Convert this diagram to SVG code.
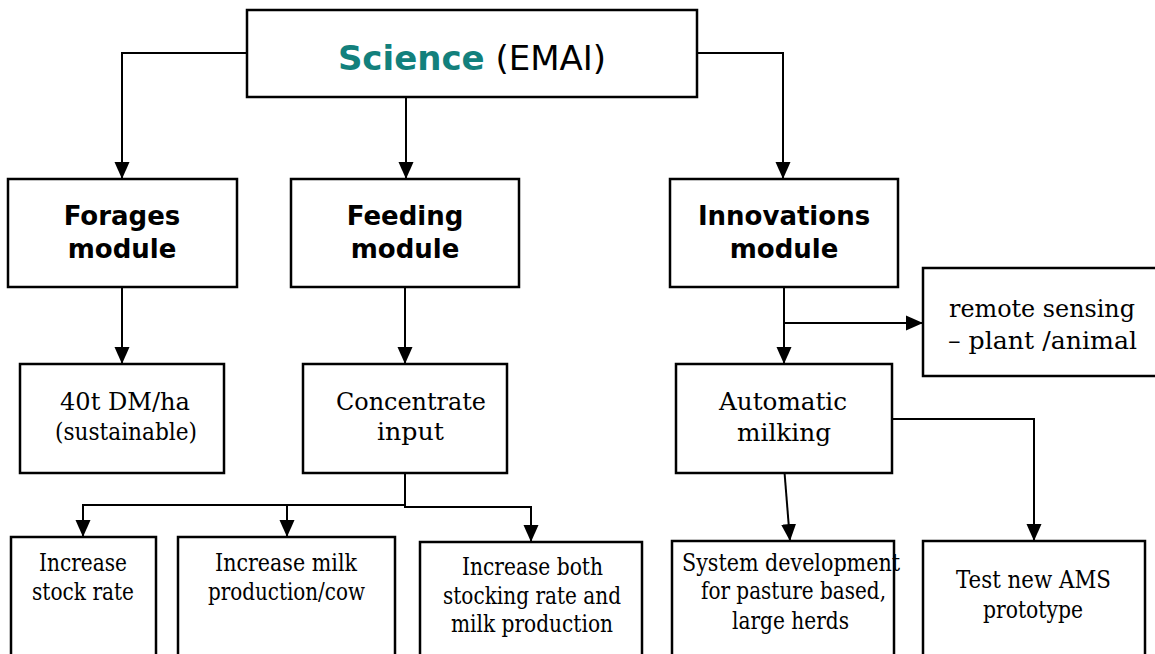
<svg xmlns="http://www.w3.org/2000/svg" width="1155" height="654" viewBox="0 0 1155 654">
<style>
.box{fill:#fff;stroke:#000;stroke-width:2.5}
.con{fill:none;stroke:#000;stroke-width:2;marker-end:url(#arr)}
.mod{font-family:"DejaVu Sans","Verdana",sans-serif;font-weight:bold;font-size:26px;text-anchor:middle;fill:#000}
.ser{font-family:"DejaVu Serif","Liberation Serif",serif;font-size:25px;text-anchor:middle;fill:#000}
</style>
<defs>
<marker id="arr" markerUnits="userSpaceOnUse" markerWidth="17" markerHeight="17" viewBox="0 0 17 17" refX="17" refY="8.5" orient="auto">
<path d="M0,1 L17,8.5 L0,16 Z" fill="#000"/>
</marker>
</defs>
<rect width="1155" height="654" fill="#fff"/>
<g id="connectors">
<path class="con" d="M247,53 H122 V179"/>
<path class="con" d="M697,53 H783 V179"/>
<path class="con" d="M406,97 V179"/>
<path class="con" d="M122,287 V364"/>
<path class="con" d="M405,287 V364"/>
<path class="con" d="M405,473 V505 H83 V537"/>
<path class="con" d="M287,505 V537"/>
<path class="con" d="M405,505 V507 H531 V542"/>
<path class="con" d="M784,287 V364"/>
<path class="con" d="M784,323 H923"/>
<path class="con" d="M784,466 L790,541"/>
<path class="con" d="M892,419 H1034 V541"/>
</g>
<g id="science">
<rect class="box" x="247" y="10" width="450" height="87"/>
<text x="472" y="70" font-family="'DejaVu Sans',Verdana,sans-serif" font-size="34px" text-anchor="middle"><tspan font-weight="bold" fill="#12807c">Science</tspan> <tspan fill="#000">(EMAI)</tspan></text>
</g>
<g id="forages">
<rect class="box" x="8" y="179" width="229" height="108"/>
<text class="mod" x="122" y="225">Forages</text>
<text class="mod" x="122" y="258">module</text>
</g>
<g id="feeding">
<rect class="box" x="291" y="179" width="228" height="108"/>
<text class="mod" x="405" y="225">Feeding</text>
<text class="mod" x="405" y="258">module</text>
</g>
<g id="innovations">
<rect class="box" x="670" y="179" width="228" height="108"/>
<text class="mod" x="784" y="225">Innovations</text>
<text class="mod" x="784" y="258">module</text>
</g>
<g id="remote">
<rect class="box" x="923" y="268" width="240" height="108"/>
<text class="ser" x="1042" y="317" textLength="186" lengthAdjust="spacingAndGlyphs">remote sensing</text>
<text class="ser" x="1042.5" y="349" textLength="189" lengthAdjust="spacingAndGlyphs">– plant /animal</text>
</g>
<g id="dm">
<rect class="box" x="20" y="364" width="204" height="109"/>
<text class="ser" x="125" y="410" textLength="130" lengthAdjust="spacingAndGlyphs">40t DM/ha</text>
<text class="ser" x="126" y="440" textLength="142" lengthAdjust="spacingAndGlyphs">(sustainable)</text>
</g>
<g id="concentrate">
<rect class="box" x="303" y="364" width="204" height="109"/>
<text class="ser" x="411" y="410" textLength="150" lengthAdjust="spacingAndGlyphs">Concentrate</text>
<text class="ser" x="410.5" y="440" textLength="67" lengthAdjust="spacingAndGlyphs">input</text>
</g>
<g id="automatic">
<rect class="box" x="676" y="364" width="216" height="109"/>
<text class="ser" x="783" y="410" textLength="128" lengthAdjust="spacingAndGlyphs">Automatic</text>
<text class="ser" x="784" y="441" textLength="94" lengthAdjust="spacingAndGlyphs">milking</text>
</g>
<g id="stock">
<rect class="box" x="11" y="537" width="145" height="120"/>
<text class="ser" x="83" y="571" textLength="88" lengthAdjust="spacingAndGlyphs">Increase</text>
<text class="ser" x="83" y="600" textLength="102" lengthAdjust="spacingAndGlyphs">stock rate</text>
</g>
<g id="milk">
<rect class="box" x="178" y="537" width="217" height="120"/>
<text class="ser" x="286" y="571" textLength="142" lengthAdjust="spacingAndGlyphs">Increase milk</text>
<text class="ser" x="286.5" y="600" textLength="157" lengthAdjust="spacingAndGlyphs">production/cow</text>
</g>
<g id="both">
<rect class="box" x="420" y="542" width="222" height="120"/>
<text class="ser" x="532.5" y="575" textLength="141" lengthAdjust="spacingAndGlyphs">Increase both</text>
<text class="ser" x="532" y="604" textLength="178" lengthAdjust="spacingAndGlyphs">stocking rate and</text>
<text class="ser" x="532" y="632" textLength="162" lengthAdjust="spacingAndGlyphs">milk production</text>
</g>
<g id="system">
<rect class="box" x="672" y="541" width="222" height="120"/>
<text class="ser" x="791" y="571" textLength="218" lengthAdjust="spacingAndGlyphs">System development</text>
<text class="ser" x="793.5" y="599" textLength="185" lengthAdjust="spacingAndGlyphs">for pasture based,</text>
<text class="ser" x="790.5" y="629" textLength="117" lengthAdjust="spacingAndGlyphs">large herds</text>
</g>
<g id="ams">
<rect class="box" x="923" y="541" width="222" height="120"/>
<text class="ser" x="1033.5" y="588" textLength="155" lengthAdjust="spacingAndGlyphs">Test new AMS</text>
<text class="ser" x="1033" y="618" textLength="100" lengthAdjust="spacingAndGlyphs">prototype</text>
</g>
</svg>
